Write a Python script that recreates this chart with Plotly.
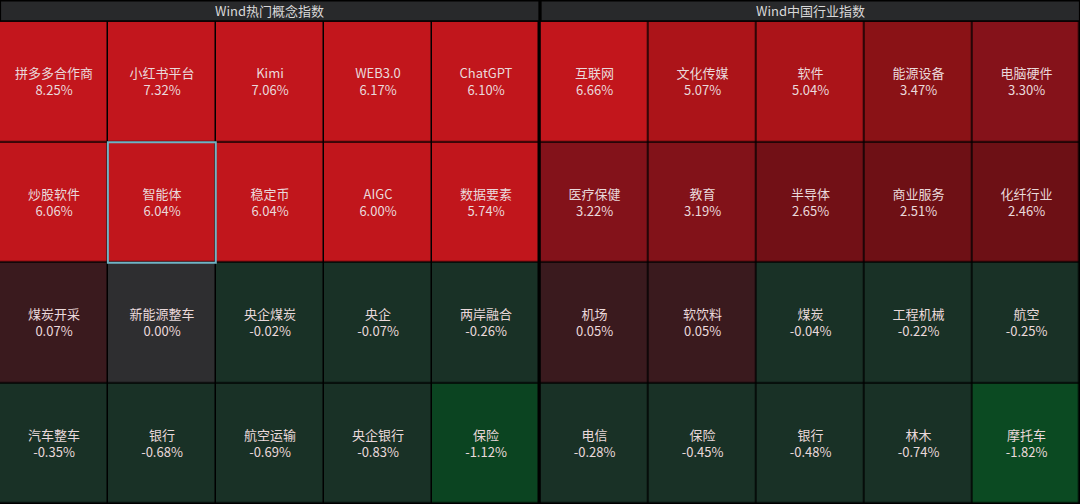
import plotly.graph_objects as go
from plotly.subplots import make_subplots

concept_names = [
    ["拼多多合作商", "小红书平台", "Kimi", "WEB3.0", "ChatGPT"],
    ["炒股软件", "智能体", "稳定币", "AIGC", "数据要素"],
    ["煤炭开采", "新能源整车", "央企煤炭", "央企", "两岸融合"],
    ["汽车整车", "银行", "航空运输", "央企银行", "保险"],
]
concept_values = [
    [8.25, 7.32, 7.06, 6.17, 6.10],
    [6.06, 6.04, 6.04, 6.00, 5.74],
    [0.07, 0.00, -0.02, -0.07, -0.26],
    [-0.35, -0.68, -0.69, -0.83, -1.12],
]
industry_names = [
    ["互联网", "文化传媒", "软件", "能源设备", "电脑硬件"],
    ["医疗保健", "教育", "半导体", "商业服务", "化纤行业"],
    ["机场", "软饮料", "煤炭", "工程机械", "航空"],
    ["电信", "保险", "银行", "林木", "摩托车"],
]
industry_values = [
    [6.66, 5.07, 5.04, 3.47, 3.30],
    [3.22, 3.19, 2.65, 2.51, 2.46],
    [0.05, 0.05, -0.04, -0.22, -0.25],
    [-0.28, -0.45, -0.48, -0.74, -1.82],
]
titles = ["Wind热门概念指数", "Wind中国行业指数"]

colorscale = [
    [0.0, "#0b4c22"], [0.018, "#0b4a22"], [0.088, "#0b4421"],
    [0.117, "#193126"], [0.1995, "#193126"], [0.1996, "#2e2e30"],
    [0.2004, "#2e2e30"], [0.2005, "#3a1a1e"], [0.21, "#3a1a1e"],
    [0.446, "#6d1015"], [0.53, "#85121a"], [0.547, "#8a1216"],
    [0.7, "#a91419"], [0.75, "#c1161c"], [1.0, "#c3161d"],
]

fig = make_subplots(rows=1, cols=2, horizontal_spacing=0.003)
for i, (names, vals) in enumerate([(concept_names, concept_values),
                                   (industry_names, industry_values)]):
    text = [[f"{n}<br>{v:.2f}%" for n, v in zip(rn, rv)] for rn, rv in zip(names, vals)]
    fig.add_trace(go.Heatmap(
        z=vals, text=text, texttemplate="%{text}",
        textfont=dict(color="#ead9db", size=13),
        colorscale=colorscale, zmin=-2, zmax=8, showscale=False,
        xgap=1.5, ygap=1.5, hoverinfo="text"), row=1, col=i + 1)

for ax in ["xaxis", "xaxis2"]:
    fig.layout[ax].update(visible=False)
for ax in ["yaxis", "yaxis2"]:
    fig.layout[ax].update(visible=False, autorange="reversed", domain=[0, 0.957])
fig.layout.xaxis.domain = [0, 0.4995]
fig.layout.xaxis2.domain = [0.5005, 1]

for i, (x0, x1) in enumerate([(0.001, 0.4985), (0.5015, 0.999)]):
    fig.add_shape(type="rect", xref="paper", yref="paper", x0=x0, x1=x1,
                  y0=0.96, y1=0.997, fillcolor="#28292b", line_width=0, layer="below")
    fig.add_annotation(xref="paper", yref="paper", x=(x0 + x1) / 2, y=0.979,
                       yanchor="middle", xanchor="center",
                       text=titles[i], showarrow=False,
                       font=dict(color="#d8d8d8", size=13))

fig.add_shape(type="rect", xref="x", yref="y", x0=0.5, x1=1.5, y0=0.5, y1=1.5,
              line=dict(color="#6fb3c4", width=2))

fig.update_layout(
    width=1080, height=504, margin=dict(l=0, r=0, t=0, b=0),
    paper_bgcolor="#000000", plot_bgcolor="#000000",
    font=dict(family="Noto Sans CJK SC"),
)
fig.write_html("out.html", config={"displayModeBar": False},
               post_script="document.body.style.margin='0';document.body.style.overflow='hidden';")
